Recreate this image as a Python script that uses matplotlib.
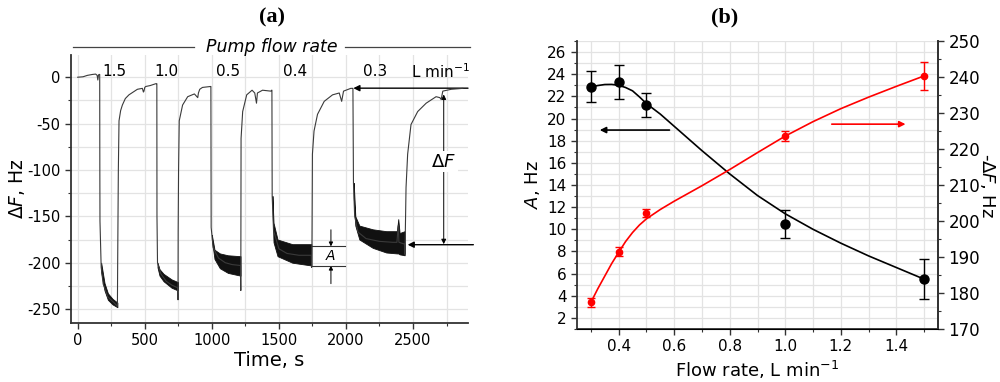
import matplotlib
matplotlib.use("Agg")
import matplotlib.pyplot as plt
import numpy as np
from matplotlib.ticker import MultipleLocator

# ---------------- Panel (a) data ----------------
trace_t = [0, 40, 72, 110, 134, 145, 150, 155, 160, 164,
           165, 166, 175, 190, 225, 270, 296,
           298, 303, 308, 320, 333, 355, 382, 445, 482, 490, 494, 500, 507, 540, 582, 588,
           590, 591, 595, 620, 660, 700, 745, 748, 749, 752, 757, 782, 820, 870, 895, 900, 910, 930, 990, 992,
           993, 995, 1010, 1050, 1100, 1150, 1214, 1216, 1218, 1230, 1260, 1300, 1320, 1333, 1340, 1378, 1440, 1446,
           1448, 1450, 1460, 1500, 1560, 1650, 1742, 1744, 1746, 1750, 1762, 1788, 1838, 1900, 1950, 1968, 1982, 2036, 2050,
           2052, 2056, 2065, 2090, 2150, 2250, 2350, 2380, 2390, 2395, 2438, 2440, 2448, 2460, 2485, 2535, 2598, 2672,
           2700, 2710, 2722, 2785, 2871]
trace_f = [0, 0.5, 2, 3, 3.4, 2, -3, 2.5, 3, 3,
           -100, -155, -205, -223, -237, -243, -247,
           -200, -100, -47, -36, -30, -23, -19, -13, -12, -16, -15, -11, -10, -9, -7, -7,
           -7, -150, -200, -212, -220, -224, -227, -240, -166, -100, -47, -30, -21, -18, -22, -17, -13, -11, -10, -10,
           -10, -162, -184, -195, -200, -202, -203, -230, -66, -37, -19, -14, -17, -28, -17, -14, -15, -14,
           -14, -128, -165, -185, -190, -192, -192, -205, -201, -83, -58, -40, -26, -19, -17, -26, -15, -12, -12,
           -12, -114, -150, -167, -174, -177, -178, -178, -160, -178, -180, -191, -119, -83, -51, -37, -28, -21,
           -22, -24, -15, -13, -12]

# noise envelopes of the oscillating segments
band1_t = [175, 200, 225, 260, 296]
band1_hi = [-200, -222, -233, -239, -243]
band1_lo = [-210, -230, -240, -245, -248]

band2_t = [595, 610, 640, 700, 748]
band2_hi = [-200, -207, -212, -218, -221]
band2_lo = [-205, -214, -220, -227, -230]

band3_t = [1000, 1020, 1060, 1120, 1214]
band3_hi = [-170, -186, -190, -192, -193]
band3_lo = [-175, -196, -206, -211, -214]

band4_t = [1452, 1460, 1490, 1600, 1742]
band4_hi = [-128, -157, -175, -180, -180]
band4_lo = [-140, -178, -193, -200, -203]

band5_t = [2058, 2070, 2100, 2200, 2300, 2380, 2390, 2400, 2438]
band5_hi = [-114, -150, -160, -164, -166, -166, -153, -168, -166]
band5_lo = [-130, -160, -175, -184, -189, -190, -190, -191, -192]

flow_labels = ["1.5", "1.0", "0.5", "0.4", "0.3"]

# ---------------- Panel (b) data ----------------
flow = [0.3, 0.4, 0.5, 1.0, 1.5]
amp = [22.85, 23.3, 21.2, 10.45, 5.5]
amp_err = [1.4, 1.5, 1.1, 1.25, 1.8]
dF = [177.4, 191.5, 202.3, 223.6, 240.3]
dF_err = [1.25, 1.3, 1.1, 1.4, 4.0]

fit_x = [0.3, 0.325, 0.35, 0.375, 0.4, 0.425, 0.45, 0.475, 0.5, 0.55, 0.6,
         0.7, 0.8, 0.9, 1.0, 1.1, 1.2, 1.3, 1.4, 1.5]
amp_fit = [22.85, 22.98, 23.07, 23.08, 23.0, 22.8, 22.5, 21.95, 21.35, 20.4, 19.3,
           17.1, 15.0, 13.05, 11.4, 10.0, 8.75, 7.6, 6.55, 5.5]
dF_fit = [177.4, 181.2, 184.7, 188.2, 191.3, 194.3, 196.8, 198.9, 200.6, 203.2, 205.5,
          209.8, 214.3, 219.0, 223.6, 227.6, 231.2, 234.4, 237.4, 240.3]

# ---------------- Figure ----------------
plt.rcParams['font.family'] = ['DejaVu Sans']
plt.rcParams['mathtext.fontset'] = 'dejavusans'
fig = plt.figure(figsize=(10, 3.82), dpi=100)

spine_c = '#333333'
grid_c = '#e3e3e3'

# ---- Panel (a) ----
ax = fig.add_axes([0.071, 0.1545, 0.397, 0.7016])
ax.set_xlim(-50, 2910)
ax.set_ylim(-265, 24)
ax.xaxis.set_major_locator(MultipleLocator(500))
ax.xaxis.set_minor_locator(MultipleLocator(250))
ax.yaxis.set_major_locator(MultipleLocator(50))
ax.yaxis.set_minor_locator(MultipleLocator(25))
ax.grid(True, which='both', color=grid_c, lw=0.9, zorder=0)
ax.set_axisbelow(True)
for s in ['top', 'right']:
    ax.spines[s].set_visible(False)
for s in ['left', 'bottom']:
    ax.spines[s].set_color(spine_c)
    ax.spines[s].set_linewidth(1.3)
ax.tick_params(which='major', direction='out', length=4, width=1, color=spine_c, labelsize=10.5)
ax.tick_params(which='minor', direction='out', length=2.5, width=0.8, color=spine_c)
ax.set_yticks([0, -50, -100, -150, -200, -250])
ax.set_yticklabels(['0', '-50', '-100', '-150', '-200', '-250'])

for bt, bh, bl in [(band1_t, band1_hi, band1_lo), (band2_t, band2_hi, band2_lo),
                   (band3_t, band3_hi, band3_lo), (band4_t, band4_hi, band4_lo),
                   (band5_t, band5_hi, band5_lo)]:
    ax.fill_between(bt, bl, bh, color='#111111', lw=0.6, zorder=3)
ax.plot(trace_t, trace_f, color='#3a3a3a', lw=0.8, zorder=4)

ax.set_xlabel('Time, s', fontsize=14, labelpad=2)
ax.set_ylabel(r'$\mathit{\Delta F}$, Hz', fontsize=13.5, labelpad=0)

# pump flow rate header
ax.plot([0.005, 0.31], [1.03, 1.03], transform=ax.transAxes, color='#444444', lw=0.9, clip_on=False)
ax.plot([0.69, 1.005], [1.03, 1.03], transform=ax.transAxes, color='#444444', lw=0.9, clip_on=False)
ax.text(0.506, 1.03, 'Pump flow rate', transform=ax.transAxes, ha='center', va='center',
        fontsize=12.5, style='italic')
for lab, xp in zip(flow_labels, [276, 664, 1119, 1619, 2216]):
    ax.text(xp, 6.5, lab, ha='center', va='center', fontsize=11)
ax.text(2701, 6.5, r'L min$^{-1}$', ha='center', va='center', fontsize=11)

# Delta F annotation
arw = dict(arrowstyle='-|>', color='black', lw=1.0, mutation_scale=9, shrinkA=0, shrinkB=0)
ax.annotate('', xy=(2055, -11.8), xytext=(2910, -11.8), arrowprops=arw, annotation_clip=False)
ax.annotate('', xy=(2460, -180.6), xytext=(2950, -180.6), arrowprops=arw, annotation_clip=False)
ax.annotate('', xy=(2729, -18.6), xytext=(2729, -100), arrowprops=dict(arw, lw=0.7, mutation_scale=7))
ax.annotate('', xy=(2729, -180), xytext=(2729, -100), arrowprops=dict(arw, lw=0.7, mutation_scale=7))
ax.text(2729, -91, r'$\mathit{\Delta F}$', ha='center', va='center', fontsize=13,
        bbox=dict(facecolor='white', edgecolor='none', pad=1), zorder=5)

# A annotation
ax.plot([1746, 1993], [-182.4, -182.4], color='#333333', lw=0.8, zorder=5)
ax.plot([1746, 1993], [-203.2, -203.2], color='#333333', lw=0.8, zorder=5)
ax.annotate('', xy=(1888, -182.4), xytext=(1888, -164.5), arrowprops=dict(arw, lw=0.7, mutation_scale=6))
ax.annotate('', xy=(1888, -203.2), xytext=(1888, -222.6), arrowprops=dict(arw, lw=0.7, mutation_scale=6))
ax.text(1888, -193, 'A', ha='center', va='center', fontsize=10, style='italic')

fig.text(0.272, 0.955, '(a)', ha='center', va='center', fontsize=16, fontweight='bold',
         family='Liberation Serif')

# ---- Panel (b) ----
bx = fig.add_axes([0.577, 0.1387, 0.361, 0.754])
bx.set_xlim(0.25, 1.55)
bx.set_ylim(1, 27)
bx.xaxis.set_major_locator(MultipleLocator(0.2))
bx.xaxis.set_minor_locator(MultipleLocator(0.1))
bx.yaxis.set_major_locator(MultipleLocator(2))
bx.yaxis.set_minor_locator(MultipleLocator(1))
bx.grid(True, which='both', color=grid_c, lw=0.9, zorder=0)
bx.set_axisbelow(True)
bx.spines['top'].set_visible(False)
for s in ['left', 'bottom', 'right']:
    bx.spines[s].set_color(spine_c)
    bx.spines[s].set_linewidth(1.3)
bx.tick_params(which='major', direction='out', length=4, width=1, color=spine_c, labelsize=11)
bx.tick_params(which='minor', direction='out', length=2.5, width=0.8, color=spine_c)
bx.set_xticks([0.4, 0.6, 0.8, 1.0, 1.2, 1.4])
bx.set_xticklabels(['0.4', '0.6', '0.8', '1.0', '1.2', '1.4'])

bx2 = bx.twinx()
bx2.set_ylim(170, 250)
bx2.yaxis.set_major_locator(MultipleLocator(10))
bx2.yaxis.set_minor_locator(MultipleLocator(5))
bx2.spines['top'].set_visible(False)
bx2.spines['right'].set_color(spine_c)
bx2.spines['right'].set_linewidth(1.3)
bx2.spines['left'].set_visible(False)
bx2.tick_params(which='major', direction='out', length=4, width=1, color=spine_c, labelsize=12)
bx2.tick_params(which='minor', direction='out', length=2.5, width=0.8, color=spine_c)

bx.plot(fit_x, amp_fit, color='black', lw=1.2, zorder=3)
bx.errorbar(flow, amp, yerr=amp_err, fmt='o', color='black', ms=6.5, capsize=3.5,
            elinewidth=1.0, capthick=1.0, zorder=4)
bx2.plot(fit_x, dF_fit, color='#ff0000', lw=1.2, zorder=3)
bx2.errorbar(flow, dF, yerr=dF_err, fmt='o', color='#ff0000', ms=4.5, capsize=3,
             elinewidth=1.0, capthick=1.0, zorder=4)

bx.annotate('', xy=(0.332, 18.96), xytext=(0.583, 18.96),
            arrowprops=dict(arrowstyle='-|>', color='black', lw=1.2, mutation_scale=9, shrinkA=0, shrinkB=0))
bx2.annotate('', xy=(1.433, 226.9), xytext=(1.1675, 226.9),
             arrowprops=dict(arrowstyle='-|>', color='#ff0000', lw=1.2, mutation_scale=9, shrinkA=0, shrinkB=0))

bx.set_xlabel(r'Flow rate, L min$^{-1}$', fontsize=13, labelpad=3)
bx.set_ylabel(r'$\mathit{A}$, Hz', fontsize=13, labelpad=4)
bx2.set_ylabel(r'-$\mathit{\Delta F}$, Hz', fontsize=13, rotation=270, labelpad=12)

fig.text(0.725, 0.955, '(b)', ha='center', va='center', fontsize=16, fontweight='bold',
         family='Liberation Serif')

fig.savefig('out.png', dpi=100)
